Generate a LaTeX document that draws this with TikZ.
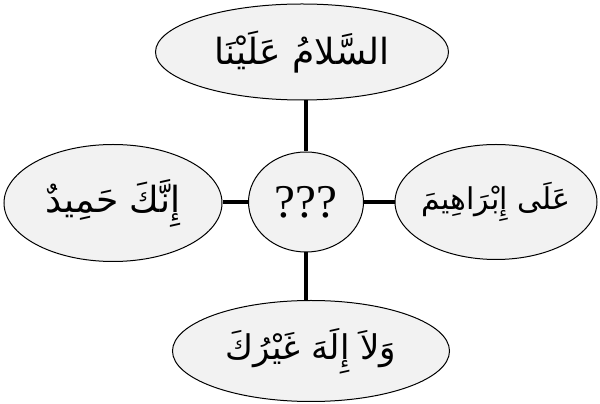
\documentclass[tikz,border=0pt]{standalone}
\usepackage{fontspec}
\setmainfont{Liberation Serif}
\newfontfamily\arabicfont[Script=Arabic]{DejaVu Sans}
\TeXXeTstate=1
\usetikzlibrary{shapes.geometric}
\definecolor{nodefill}{HTML}{F2F2F2}
\tikzset{
  oval/.style={ellipse, draw=black, line width=1pt, fill=nodefill, inner xsep=-40pt, inner ysep=-20pt},
  arsize/.style={font=\arabicfont\fontsize{#1}{#1}\selectfont},
  hub/.style={ellipse, draw=black, line width=1pt, fill=nodefill, inner sep=-10pt, minimum width=115pt, minimum height=100pt, font=\fontsize{47}{52}\selectfont},
  conn/.style={line width=4.5pt, black}
}
\begin{document}
\begin{tikzpicture}[x=1pt,y=1pt]
\useasboundingbox (0,0) rectangle (600,404);
\node[hub] (c) at (306,202) {???};
\node[oval, arsize=36, minimum width=293pt, minimum height=96pt] (t) at (302,352) {\beginR السَّلامُ عَلَيْنَا\endR};
\node[oval, arsize=36, minimum width=218pt, minimum height=117pt] (l) at (113,201) {\beginR إِنَّكَ حَمِيدٌ\endR};
\node[oval, arsize=30, minimum width=202pt, minimum height=115pt] (r) at (496,202) {\beginR عَلَى إِبْرَاهِيمَ\endR};
\node[oval, arsize=34, minimum width=277pt, minimum height=101pt] (b) at (311,53) {\beginR وَلاَ إِلَهَ غَيْرُكَ\endR};
\draw[conn] (c.north) -- (c.north |- t.south);
\draw[conn] (c.south) -- (c.south |- b.north);
\draw[conn] (c.west) -- (c.west -| l.east);
\draw[conn] (c.east) -- (c.east -| r.west);
\end{tikzpicture}
\end{document}
